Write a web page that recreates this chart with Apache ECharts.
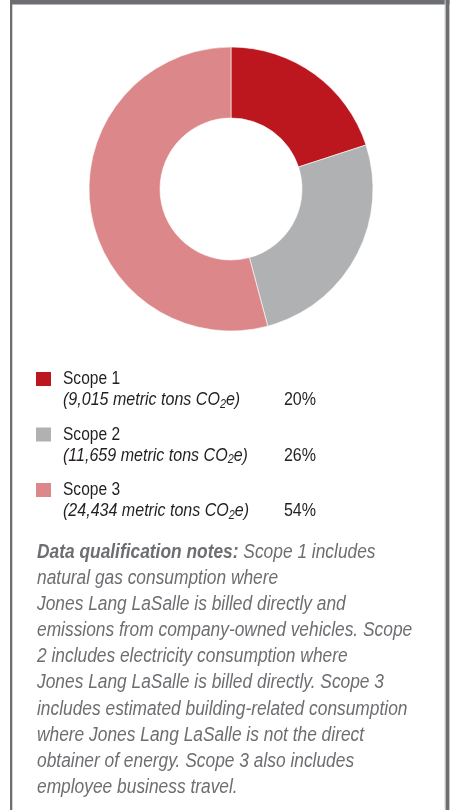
<!DOCTYPE html>
<html>
<head>
<meta charset="utf-8">
<script src="https://cdn.jsdelivr.net/npm/echarts@6/dist/echarts.min.js"></script>
<style>
  html, body { margin: 0; padding: 0; background: #ffffff; }
  #chart { width: 457px; height: 810px; }
</style>
</head>
<body>
<div id="chart"></div>
<script>
// Emissions by scope (metric tons CO2e)
const scopes = ['Scope 1', 'Scope 2', 'Scope 3'];
const tonnes = [9015, 11659, 24434];
const scopeColors = ['#bc161f', '#b0b1b3', '#dc878a'];

const noteHead = 'Data qualification notes:';
const noteFirst = ' Scope 1 includes';
const noteLines = [
  'natural gas consumption where',
  'Jones Lang LaSalle is billed directly and',
  'emissions from company-owned vehicles. Scope',
  '2 includes electricity consumption where',
  'Jones Lang LaSalle is billed directly. Scope 3',
  'includes estimated building-related consumption',
  'where Jones Lang LaSalle is not the direct',
  'obtainer of energy. Scope 3 also includes',
  'employee business travel.'
];

const FONT = "'Liberation Sans', Arial, Helvetica, sans-serif";
const INK = '#231f20';
const GREY = '#6d6e71';
// condensed look: horizontal squeeze of the sans face
const NAME_SQUEEZE = 0.81;
const LEG_SQUEEZE = 0.836;
const NOTE_SQUEEZE = 0.89;
const LEG_SIZE = 19.2;
const NOTE_LINE = 26.1;

const total = tonnes.reduce((a, b) => a + b, 0);
const pct = v => Math.round(v / total * 100) + '%';

const chart = echarts.init(document.getElementById('chart'), null, { renderer: 'canvas' });

// panel frame
const frame = [
  { type: 'rect', shape: { x: 10, y: 0, width: 439.5, height: 4.5 }, style: { fill: GREY }, silent: true },
  { type: 'rect', shape: { x: 10, y: 0, width: 2.3, height: 810 }, style: { fill: GREY }, silent: true },
  { type: 'rect', shape: { x: 444.6, y: 0, width: 1.2, height: 810 }, style: { fill: '#c9cacc' }, silent: true },
  { type: 'rect', shape: { x: 445.8, y: 0, width: 3.6, height: 810 }, style: { fill: GREY }, silent: true }
];

// key: swatch, scope name, tonnage line and share
const ROW0 = 379, ROW_STEP = 55.5;
const key = [];
scopes.forEach((name, i) => {
  const cy = ROW0 + i * ROW_STEP;
  key.push({
    type: 'rect', silent: true,
    shape: { x: 36, y: cy - 7, width: 15, height: 14 },
    style: { fill: scopeColors[i] }
  });
  key.push({
    type: 'text', silent: true, x: 63, y: cy, scaleX: NAME_SQUEEZE,
    style: { text: name, fontFamily: FONT, fontSize: LEG_SIZE, fill: INK, verticalAlign: 'middle' }
  });
  key.push({
    type: 'text', silent: true, x: 63, y: cy + 21, scaleX: LEG_SQUEEZE,
    style: {
      text: '{i|(' + tonnes[i].toLocaleString('en-US') + ' metric tons CO}{s|2}{i|e)}',
      verticalAlign: 'middle',
      rich: {
        i: { fontFamily: FONT, fontSize: LEG_SIZE, fontStyle: 'italic', fill: INK, lineHeight: 21 },
        s: { fontFamily: FONT, fontSize: 13, fontStyle: 'italic', fill: INK, lineHeight: 5, verticalAlign: 'bottom' }
      }
    }
  });
  key.push({
    type: 'text', silent: true, x: 316, y: cy + 21, scaleX: LEG_SQUEEZE,
    style: { text: pct(tonnes[i]), fontFamily: FONT, fontSize: LEG_SIZE, fill: INK, align: 'right', verticalAlign: 'middle' }
  });
});

// notes block
const noteText = '{b|' + noteHead + '}{n|' + noteFirst + '}\n' +
  noteLines.map(l => '{n|' + l + '}').join('\n');
const notes = {
  type: 'text', silent: true, x: 37, y: 552.5 - NOTE_LINE / 2, scaleX: NOTE_SQUEEZE,
  style: {
    text: noteText,
    verticalAlign: 'top',
    rich: {
      b: { fontFamily: FONT, fontSize: 19.5, fontStyle: 'italic', fontWeight: 'bold', fill: GREY, lineHeight: NOTE_LINE },
      n: { fontFamily: FONT, fontSize: 19.5, fontStyle: 'italic', fill: GREY, lineHeight: NOTE_LINE }
    }
  }
};

chart.setOption({
  backgroundColor: '#ffffff',
  animation: false,
  graphic: frame.concat(key, [notes]),
  series: [{
    type: 'pie',
    center: [231, 189],
    radius: [71, 142],
    startAngle: 90,
    clockwise: true,
    silent: true,
    label: { show: false },
    labelLine: { show: false },
    emphasis: { disabled: true },
    itemStyle: { borderColor: '#ffffff', borderWidth: 0.6 },
    data: scopes.map((s, i) => ({ name: s, value: tonnes[i], itemStyle: { color: scopeColors[i] } }))
  }]
});
</script>
</body>
</html>
